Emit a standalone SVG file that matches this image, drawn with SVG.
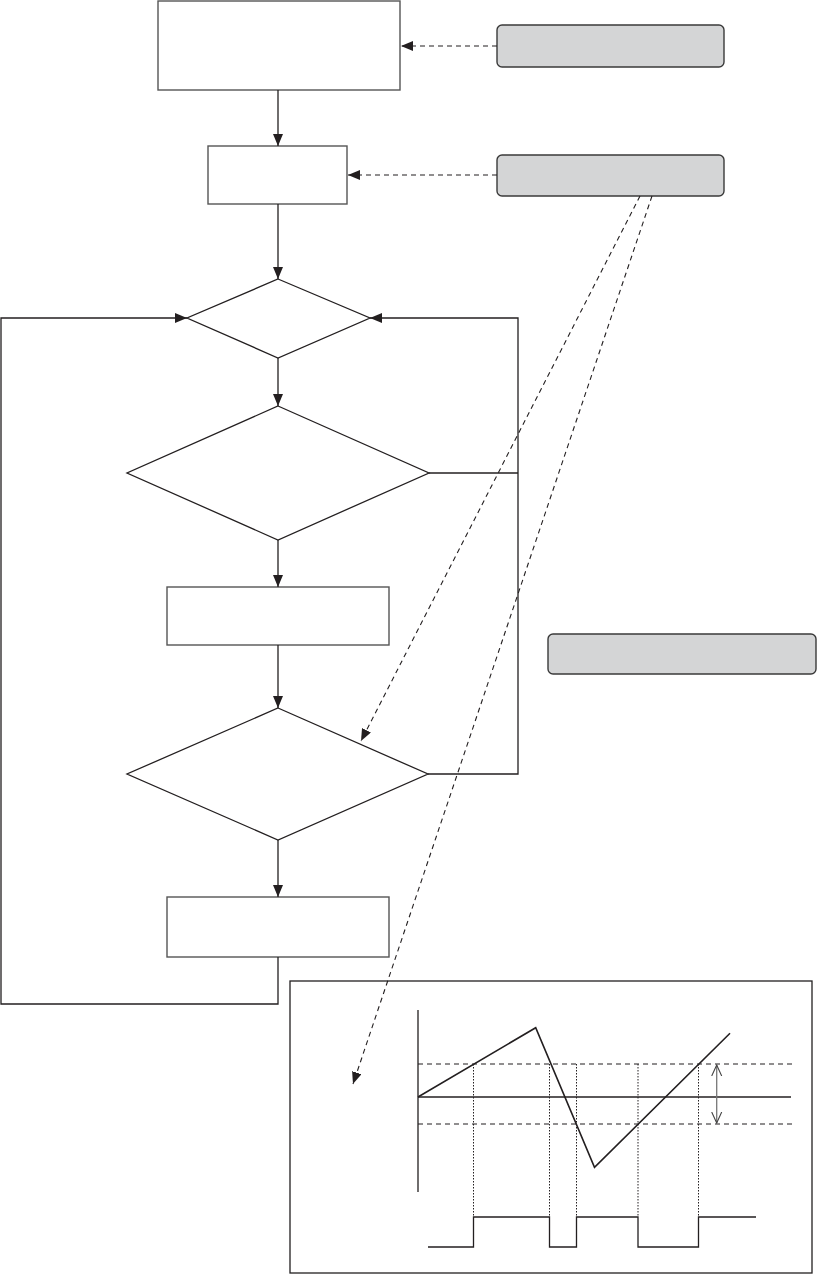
<svg xmlns="http://www.w3.org/2000/svg" width="817" height="1275" viewBox="0 0 817 1275">
<style>
.box{fill:#fff;stroke:#555;stroke-width:1.4}
.dia{fill:#fff;stroke:#231f20;stroke-width:1.3}
.note{fill:#d4d5d6;stroke:#3a3a3a;stroke-width:1.4}
.ln{fill:none;stroke:#231f20;stroke-width:1.3}
.dash{fill:none;stroke:#231f20;stroke-width:1.1;stroke-dasharray:5,4}
.dot{fill:none;stroke:#231f20;stroke-width:1;stroke-dasharray:1.5,1.5}
.wave{fill:none;stroke:#231f20;stroke-width:1.6}
</style>
<defs>
<marker id="ah" markerUnits="userSpaceOnUse" markerWidth="12" markerHeight="10" refX="12" refY="5" orient="auto">
<path d="M0,0 L12,5 L0,10 Z" fill="#231f20"/>
</marker>
<marker id="oh" markerUnits="userSpaceOnUse" markerWidth="12" markerHeight="12" refX="11" refY="6" orient="auto-start-reverse">
<path d="M0,1 L11,6 L0,11" fill="none" stroke="#444" stroke-width="1.1"/>
</marker>
</defs>
<g id="nodes">
<g id="box1"><rect class="box" x="158" y="1" width="242" height="89"/></g>
<g id="box2"><rect class="box" x="208" y="146" width="139" height="58"/></g>
<g id="note1"><rect class="note" x="497" y="25" width="227" height="42" rx="5"/></g>
<g id="note2"><rect class="note" x="497" y="155" width="227" height="41" rx="5"/></g>
<g id="note3"><rect class="note" x="548" y="634" width="268" height="40" rx="5"/></g>
<g id="dia1"><polygon class="dia" points="278,279 370,318 278,358 187,318"/></g>
<g id="dia2"><polygon class="dia" points="278,406 429,473 278,540 127,473"/></g>
<g id="box3"><rect class="box" x="167" y="587" width="222" height="58"/></g>
<g id="dia3"><polygon class="dia" points="278,708 428,774 278,840 127,774"/></g>
<g id="box4"><rect class="box" x="167" y="897" width="222" height="60"/></g>
<g id="chart">
<rect x="290" y="981" width="522" height="292" fill="none" stroke="#231f20" stroke-width="1.3"/>
<line class="ln" x1="418" y1="1010" x2="418" y2="1192"/>
<line class="ln" x1="418" y1="1097" x2="791" y2="1097"/>
<line class="dash" x1="418" y1="1064" x2="796" y2="1064"/>
<line class="dash" x1="418" y1="1124" x2="796" y2="1124"/>
<polyline class="wave" points="418,1097 535.7,1027.7 594.5,1167.3 730,1033.3"/>
<line class="dot" x1="473.5" y1="1064" x2="473.5" y2="1217"/>
<line class="dot" x1="549.5" y1="1064" x2="549.5" y2="1217"/>
<line class="dot" x1="576.5" y1="1064" x2="576.5" y2="1217"/>
<line class="dot" x1="638" y1="1064" x2="638" y2="1217"/>
<line class="dot" x1="698.5" y1="1064" x2="698.5" y2="1217"/>
<polyline class="ln" points="428,1247 473.5,1247 473.5,1217 549.5,1217 549.5,1247 576.5,1247 576.5,1217 638,1217 638,1247 698.5,1247 698.5,1217 756,1217"/>
<line x1="716.7" y1="1065" x2="716.7" y2="1123" stroke="#777" stroke-width="1.3" marker-start="url(#oh)" marker-end="url(#oh)"/>
</g>
</g>
<g id="connectors">
<line class="ln" x1="278" y1="90" x2="278" y2="146" marker-end="url(#ah)"/>
<line class="ln" x1="278" y1="204" x2="278" y2="279" marker-end="url(#ah)"/>
<line class="ln" x1="278" y1="358" x2="278" y2="406" marker-end="url(#ah)"/>
<line class="ln" x1="278" y1="540" x2="278" y2="587" marker-end="url(#ah)"/>
<line class="ln" x1="278" y1="645" x2="278" y2="708" marker-end="url(#ah)"/>
<line class="ln" x1="278" y1="840" x2="278" y2="897" marker-end="url(#ah)"/>
<polyline class="ln" points="278,957 278,1004 1,1004 1,318 187,318" marker-end="url(#ah)"/>
<polyline class="ln" points="428,774 518,774 518,318 370,318" marker-end="url(#ah)"/>
<line class="ln" x1="429" y1="473" x2="518" y2="473"/>
<line class="dash" x1="497" y1="46" x2="401" y2="46" marker-end="url(#ah)"/>
<line class="dash" x1="497" y1="175" x2="348" y2="175" marker-end="url(#ah)"/>
<line class="dash" x1="640" y1="196" x2="361" y2="741" marker-end="url(#ah)"/>
<line class="dash" x1="652" y1="196" x2="353" y2="1084" marker-end="url(#ah)"/>
</g>
</svg>
